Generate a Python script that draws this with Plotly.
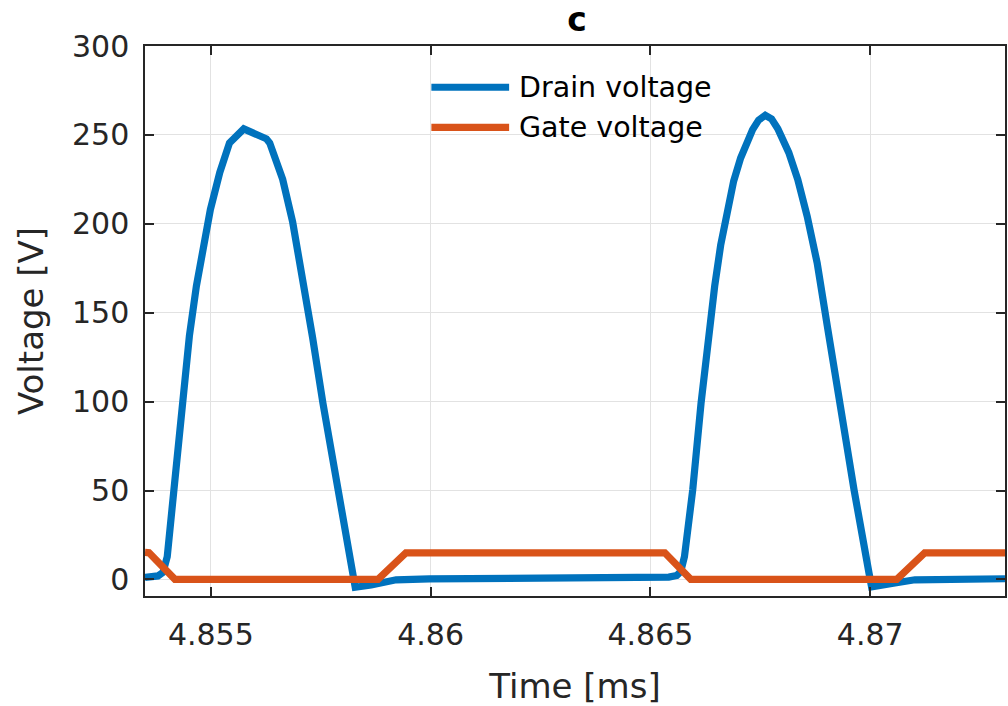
import plotly.graph_objects as go

# Switching waveforms (time in ms, voltage in V)
drain_t = [4.853502, 4.853797, 4.853911, 4.854008, 4.854160, 4.854349, 4.854512,
           4.854671, 4.854852, 4.854989, 4.855204, 4.855424, 4.855749, 4.856264,
           4.856339, 4.856634, 4.856861, 4.857095, 4.857315, 4.857549, 4.857876,
           4.858230, 4.858284, 4.858647, 4.858949, 4.859215, 4.859970, 4.862921,
           4.864964, 4.865418, 4.865600, 4.865690, 4.865774, 4.865962, 4.866151,
           4.866303, 4.866462, 4.866598, 4.866734, 4.866893, 4.867052, 4.867324,
           4.867460, 4.867612, 4.867755, 4.867898, 4.868148, 4.868352, 4.868566,
           4.868793, 4.869027, 4.869292, 4.869632, 4.869973, 4.870031,
           4.870562, 4.870751, 4.871016, 4.873066]
drain_v = [1.2, 2.0, 4.0, 12.8, 50.4, 99.0, 137.0,
           165.0, 191.0, 208.0, 229.0, 245.5, 253.4, 247.8,
           245.5, 225.0, 201.0, 170.0, 136.0, 99.2, 50.4,
           3.5, -4.4, -3.1, -2.0, -0.2, 0.3, 0.7,
           1.0, 1.3, 2.2, 4.5, 12.8, 50.4, 99.0,
           134.0, 165.0, 188.0, 207.0, 224.0, 237.0, 253.0,
           258.3, 261.0, 259.0, 253.5, 240.0, 224.9, 204.2,
           178.0, 142.0, 99.2, 50.4, 3.5, -4.2,
           -2.0, -1.0, -0.2, 0.4]

gate_t = [4.853502, 4.853593, 4.854183, 4.858802, 4.859437, 4.865327,
          4.865917, 4.870603, 4.871239, 4.873066]
gate_v = [15.2, 15.0, 0.1, 0.1, 15.0, 15.0,
          0.1, 0.1, 15.0, 15.0]

series_names = ["Drain voltage", "Gate voltage"]
series_colors = ["#0072BD", "#D95319"]

x_ticks = [4.855, 4.86, 4.865, 4.87]
x_tick_text = ["4.855", "4.86", "4.865", "4.87"]
y_ticks = [0, 50, 100, 150, 200, 250, 300]

FONT = "DejaVu Sans"
AXIS_COLOR = "#262626"
GRID_COLOR = "#e2e2e2"
LINE_W = 7.2

fig = go.Figure()
for t, v, name, color in zip([drain_t, gate_t], [drain_v, gate_v], series_names, series_colors):
    fig.add_trace(go.Scatter(x=t, y=v, mode="lines", name=name,
                             line=dict(color=color, width=LINE_W), showlegend=False))

axis_common = dict(
    showline=True, linecolor=AXIS_COLOR, linewidth=1.5, mirror="ticks",
    ticks="inside", ticklen=9, tickwidth=1.5, tickcolor=AXIS_COLOR,
    showgrid=True, gridcolor=GRID_COLOR, gridwidth=1.2, zeroline=False,
    tickfont=dict(family=FONT, size=30, color=AXIS_COLOR),
)

fig.update_layout(
    width=1008, height=706,
    margin=dict(l=145, r=1, t=46, b=110),
    paper_bgcolor="white", plot_bgcolor="white",
    title=dict(text="<b>c</b>", x=577 / 1008, xanchor="center",
               y=1 - 19 / 706, yanchor="middle",
               font=dict(family=FONT, size=33, color="#000000")),
    xaxis=dict(range=[4.853502, 4.873066], tickvals=x_ticks, ticktext=x_tick_text,
               ticklabelstandoff=11,
               title=dict(text="Time [ms]", font=dict(family=FONT, size=34, color=AXIS_COLOR),
                          standoff=24),
               **axis_common),
    yaxis=dict(range=[-9.3, 300], tickvals=y_ticks,
               ticklabelstandoff=8,
               title=dict(text="Voltage [V]", font=dict(family=FONT, size=34, color=AXIS_COLOR),
                          standoff=18),
               **axis_common),
    showlegend=False,
)

# Legend drawn inside the axes: line sample followed by series name
legend_rows_y = [0.925, 0.852]
for name, color, ly in zip(series_names, series_colors, legend_rows_y):
    fig.add_shape(type="line", xref="paper", yref="paper",
                  x0=0.333, x1=0.4234, y0=ly, y1=ly,
                  line=dict(color=color, width=LINE_W))
    fig.add_annotation(xref="paper", yref="paper", x=0.4327, y=ly,
                       xanchor="left", yanchor="middle", showarrow=False,
                       text=name, font=dict(family=FONT, size=28.5, color="#000000"))

fig.write_html("out.html")
